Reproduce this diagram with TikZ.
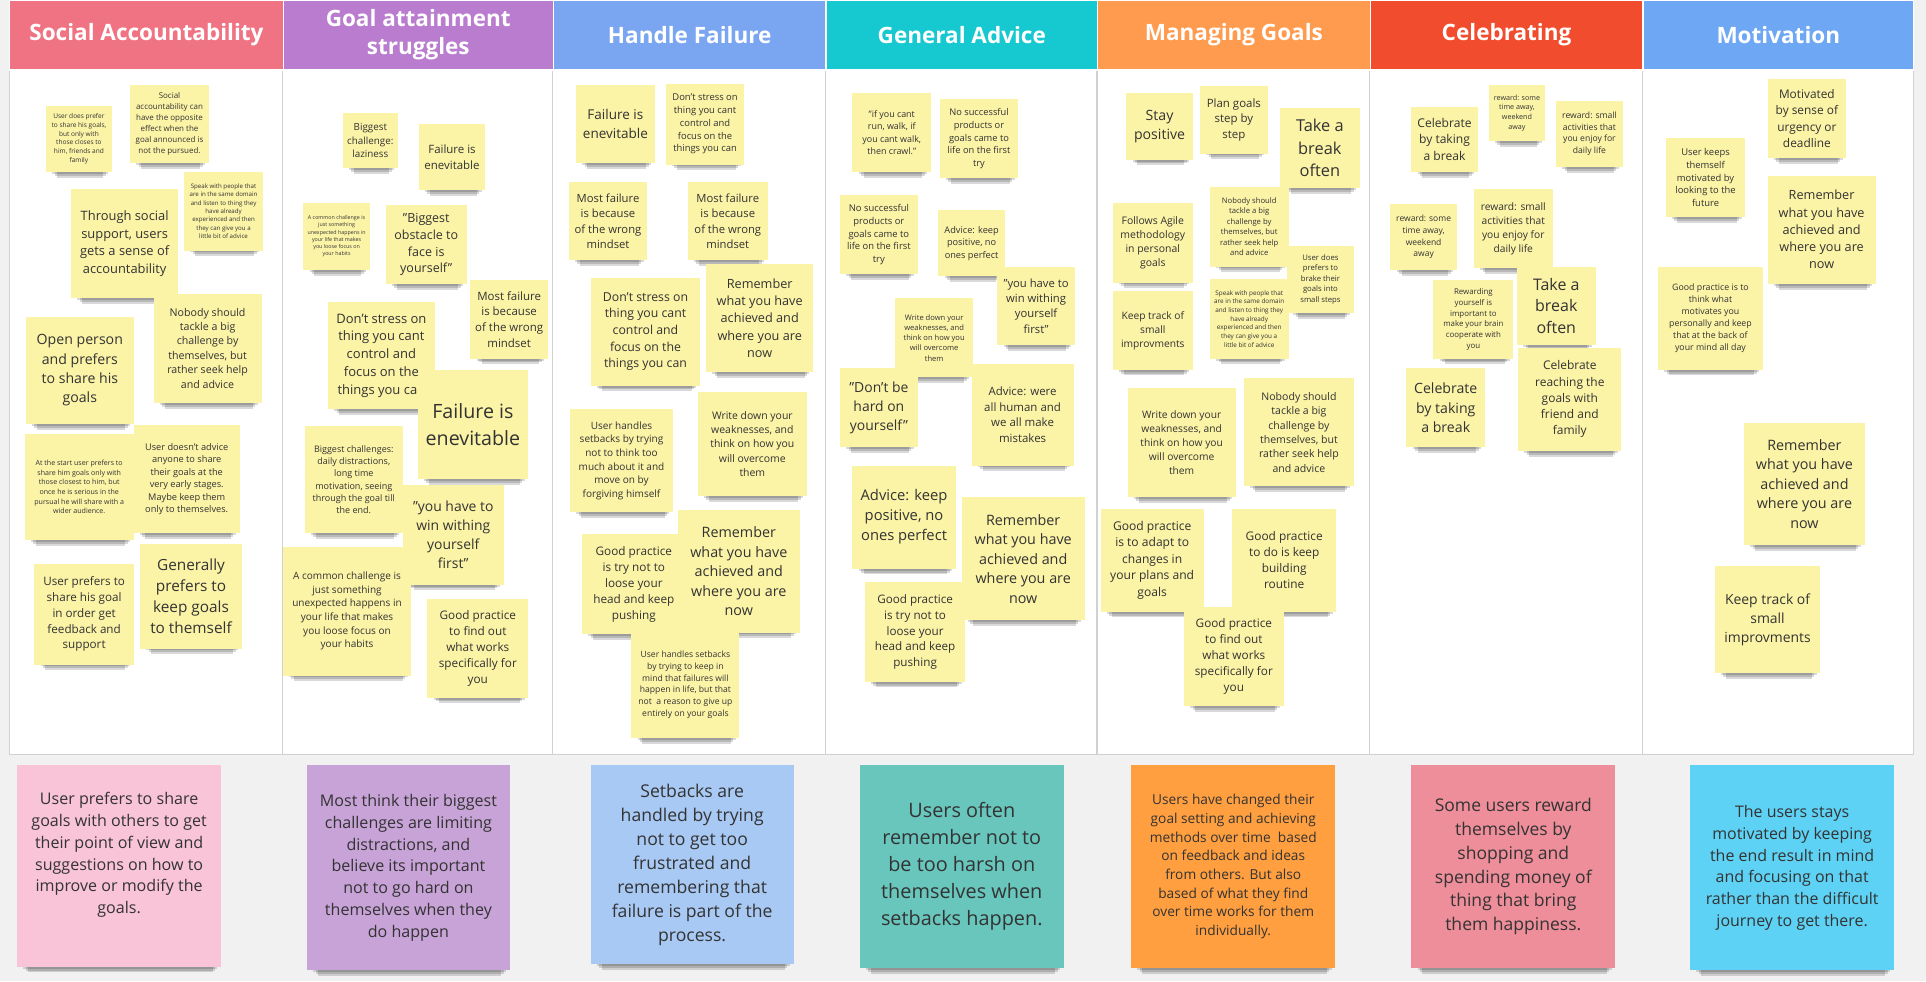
\documentclass[tikz,border=0pt]{standalone}
\usepackage{fontspec}
\setmainfont{Open Sans}
\usetikzlibrary{fit}
\definecolor{bgc}{HTML}{F1F1F1}
\definecolor{noteY}{HTML}{FBF3A6}
\definecolor{txt}{HTML}{333333}
\definecolor{hA}{HTML}{F07383}
\definecolor{hB}{HTML}{B97CCF}
\definecolor{hC}{HTML}{7AA6F1}
\definecolor{hD}{HTML}{16C8CF}
\definecolor{hE}{HTML}{FF9B4E}
\definecolor{hF}{HTML}{F14C2D}
\definecolor{hG}{HTML}{6EA7F3}
\definecolor{sA}{HTML}{F9C4D7}
\definecolor{sB}{HTML}{C8A3D7}
\definecolor{sC}{HTML}{A8C9F3}
\definecolor{sD}{HTML}{68C6BD}
\definecolor{sE}{HTML}{FF9F40}
\definecolor{sF}{HTML}{EE8E9A}
\definecolor{sG}{HTML}{5ED2F4}
\tikzset{
  note/.style={fill=#1, inner sep=0pt},
  notetext/.style={inner sep=0pt, align=center, text=txt, anchor=center},
  header/.style={fill=#1, draw=white, line width=0.6pt, inner sep=0pt},
  headtext/.style={inner sep=0pt, text=white, align=center, anchor=center,
    font=\bfseries\fontsize{11}{13.8}\selectfont},
  sepline/.style={draw=black!18, line width=0.6pt},
}
\newcommand\stkdy{0}
\newcommand\stk[8][noteY]{%
  \pgfmathsetmacro\stkl{#7*1.36}%
  \foreach \k in {0,1,2}{%
    \fill[black,opacity=0.15] ({#3+5+2*\k},{#6-3}) rectangle ({#5-3-2*\k},{#6+1.5+1.6*\k});
  }%
  \node[note=#1, fit={(#3,#4)(#5,#6)}] (#2) {};
  \node[notetext, yshift=\stkdy pt, font=\fontsize{#7}{\stkl}\selectfont] (#2t) at (#2.center) {#8};
}
\newcommand\hdr[5]{%
  \node[header=#2, fit={(#3,0)(#4,57)}] (#1) {};
  \node[headtext] (#1t) at (#1.center) {#5};
}
\begin{document}
\begin{tikzpicture}[x=0.6pt,y=-0.6pt]
\useasboundingbox (0,0) rectangle (1568,799);
\fill[bgc] (0,0) rectangle (1568,799);
% panel
\node[fill=white, draw=black!18, line width=0.6pt, inner sep=0pt, fit={(8,57)(1558,614)}] (panel) {};
\foreach \xx in {230,450,672,893,1115,1337} \draw[sepline] (\xx,57) -- (\xx,614);
% headers
\hdr{h1}{hA}{8}{230.5}{Social Accountability}
\hdr{h2}{hB}{230.5}{450.5}{Goal attainment\\struggles}
\hdr{h3}{hC}{450.5}{672.5}{Handle Failure}
\hdr{h4}{hD}{672.5}{893.5}{General Advice}
\hdr{h5}{hE}{893.5}{1115.5}{Managing Goals}
\hdr{h6}{hF}{1115.5}{1337.5}{Celebrating}
\hdr{h7}{hG}{1337.5}{1558}{Motivation}

% column 1
\stk{c1a}{37.5}{86}{91}{140}{3.2}{User does prefer\\to share his goals,\\but only with\\those closes to\\him, friends and\\family}
\stk{c1b}{106}{69}{170}{133}{3.9}{Social\\accountability can\\have the opposite\\effect when the\\goal announced is\\not the pursued.}
\stk{c1c}{150}{140}{214}{204}{3.0}{Speak with people that\\are in the same domain\\and listen to thing they\\have already\\experienced and then\\they can give you a\\little bit of advice}
\stk{c1d}{58}{154}{145}{243}{6.3}{Through social\\support, users\\gets a sense of\\accountability}
\stk{c1e}{125}{239}{213}{328}{5.2}{Nobody should\\tackle a big\\challenge by\\themselves, but\\rather seek help\\and advice}
\stk{c1f}{21}{258}{109}{345}{6.9}{Open person\\and prefers\\to share his\\goals}
\stk{c1g}{20}{353}{109}{440}{3.45}{At the start user prefers to\\share him goals only with\\those closest to him, but\\once he is serious in the\\pursual he will share with a\\wider audience.}
\stk{c1h}{109}{346}{195}{434}{4.5}{User doesn't advice\\anyone to share\\their goals at the\\very early stages.\\Maybe keep them\\only to themselves.}
\stk{c1i}{28}{459}{109}{541}{5.7}{User prefers to\\share his goal\\in order get\\feedback and\\support}
\stk{c1j}{114}{443}{197}{528}{7.5}{Generally\\prefers to\\keep goals\\to themself}

% column 2
\stk{c2a}{279}{92}{324}{137}{4.8}{Biggest\\challenge:\\laziness}
\stk{c2b}{341}{101}{395}{155}{5.6}{Failure is\\enevitable}
\stk{c2c}{247}{165}{301}{220}{2.6}{A common challenge is\\just something\\unexpected happens in\\your life that makes\\you loose focus on\\your habits}
\stk{c2d}{314}{167}{380}{231}{6.1}{"Biggest\\obstacle to\\face is\\yourself"}
\stk{c2e}{383}{228}{446}{292}{5.6}{Most failure\\is because\\of the wrong\\mindset}
\stk{c2f}{267}{246}{354}{333}{6.35}{Don't stress on\\thing you cant\\control and\\focus on the\\things you can}
\stk{c2g}{340}{301}{430}{390}{9.6}{Failure is\\enevitable}
\stk{c2h}{248}{347}{328}{434}{4.4}{Biggest challenges:\\daily distractions,\\long time\\motivation, seeing\\through the goal till\\the end.}
\stk{c2i}{328}{395}{410}{476}{6.8}{"you have to\\win withing\\yourself\\first"}
\stk{c2j}{230}{445}{335}{550}{4.9}{A common challenge is\\just something\\unexpected happens in\\your life that makes\\you loose focus on\\your habits}
\stk{c2k}{348}{488}{430}{568}{5.75}{Good practice\\to find out\\what works\\specifically for\\you}

% column 3
\stk{c3a}{469}{69}{533}{133}{6.6}{Failure is\\enevitable}
\stk{c3b}{542}{68}{606}{134}{4.6}{Don't stress on\\thing you cant\\control and\\focus on the\\things you can}
\stk{c3c}{463}{148}{527}{212}{5.5}{Most failure\\is because\\of the wrong\\mindset}
\stk{c3d}{560}{148}{625}{212}{5.5}{Most failure\\is because\\of the wrong\\mindset}
\stk{c3e}{481}{226}{570}{314}{6.0}{Don't stress on\\thing you cant\\control and\\focus on the\\things you can}
\stk{c3f}{575}{215}{662}{303}{6.2}{Remember\\what you have\\achieved and\\where you are\\now}
\stk{c3g}{568}{319}{657}{404}{5.1}{Write down your\\weaknesses, and\\think on how you\\will overcome\\them}
\stk{c3h}{464}{333}{548}{417}{4.9}{User handles\\setbacks by trying\\not to think too\\much about it and\\move on by\\forgiving himself}
\stk{c3i}{474}{435}{558}{516}{5.75}{Good practice\\is try not to\\loose your\\head and keep\\pushing}
\stk{c3j}{552}{415}{651}{515}{7.0}{Remember\\what you have\\achieved and\\where you are\\now}
\stk{c3k}{514}{514}{602}{601}{4.2}{User handles setbacks\\by trying to keep in\\mind that failures will\\happen in life, but that\\not\ \ a reason to give up\\entirely on your goals}

% column 4
\stk{c4a}{694}{76}{758}{140}{4.35}{"if you cant\\run, walk, if\\you cant walk,\\then crawl."}
\stk{c4b}{765}{81}{829}{145}{4.55}{No successful\\products or\\goals came to\\life on the first\\try}
\stk{c4c}{684}{159}{747}{223}{4.6}{No successful\\products or\\goals came to\\life on the first\\try}
\stk{c4d}{764}{171}{818}{225}{4.5}{Advice: keep\\positive, no\\ones perfect}
\stk{c4e}{812}{217}{875}{281}{5.5}{"you have to\\win withing\\yourself\\first"}
\stk{c4f}{729}{243}{792}{307}{3.7}{Write down your\\weaknesses, and\\think on how you\\will overcome\\them}
\stk{c4g}{684}{300}{747}{364}{6.8}{"Don't be\\hard on\\yourself"}
\stk{c4h}{791}{296}{874}{379}{5.6}{Advice: were\\all human and\\we all make\\mistakes}
\stk{c4i}{694}{379}{778}{463}{7.2}{Advice: keep\\positive, no\\ones perfect}
\stk{c4j}{783}{405}{883}{505}{7.0}{Remember\\what you have\\achieved and\\where you are\\now}
\stk{c4k}{704}{474}{786}{555}{5.7}{Good practice\\is try not to\\loose your\\head and keep\\pushing}

% column 5
\stk{c5a}{917}{76}{971}{130}{6.9}{Stay\\positive}
\stk{c5b}{977}{70}{1032}{125}{5.6}{Plan goals\\step by\\step}
\stk{c5c}{1042}{88}{1107}{153}{8.0}{Take a\\break\\often}
\stk{c5d}{906}{165}{971}{230}{5.1}{Follows Agile\\methodology\\in personal\\goals}
\stk{c5e}{985}{152}{1049}{217}{3.75}{Nobody should\\tackle a big\\challenge by\\themselves, but\\rather seek help\\and advice}
\stk{c5f}{1048}{200}{1102}{255}{3.77}{User does\\prefers to\\brake their\\goals into\\small steps}
\stk{c5g}{906}{237}{971}{301}{5.0}{Keep track of\\small\\improvments}
\stk{c5h}{985}{227}{1049}{292}{3.1}{Speak with people that\\are in the same domain\\and listen to thing they\\have already\\experienced and then\\they can give you a\\little bit of advice}
\stk{c5i}{918}{316}{1006}{405}{5.0}{Write down your\\weaknesses, and\\think on how you\\will overcome\\them}
\stk{c5j}{1013}{308}{1102}{396}{5.15}{Nobody should\\tackle a big\\challenge by\\themselves, but\\rather seek help\\and advice}
\stk{c5k}{896}{414}{980}{498}{5.9}{Good practice\\is to adapt to\\changes in\\your plans and\\goals}
\stk{c5l}{1003}{414}{1088}{498}{5.8}{Good practice\\to do is keep\\building\\routine}
\stk{c5m}{964}{494}{1045}{575}{5.75}{Good practice\\to find out\\what works\\specifically for\\you}

% column 6
\stk{c6a}{1149}{87}{1203}{140}{5.9}{Celebrate\\by taking\\a break}
\stk{c6b}{1212}{69}{1258}{115}{3.5}{reward: some\\time away,\\weekend\\away}
\stk{c6c}{1267}{82}{1321}{136}{4.2}{reward: small\\activities that\\you enjoy for\\daily life}
\stk{c6d}{1132}{166}{1186}{220}{4.15}{reward: some\\time away,\\weekend\\away}
\stk{c6e}{1200}{154}{1264}{218}{5.0}{reward: small\\activities that\\you enjoy for\\daily life}
\stk{c6f}{1167}{228}{1232}{292}{3.85}{Rewarding\\yourself is\\important to\\make your brain\\cooperate with\\you}
\stk{c6g}{1235}{217}{1299}{281}{7.8}{Take a\\break\\often}
\stk{c6h}{1145}{300}{1209}{364}{6.9}{Celebrate\\by taking\\a break}
\stk{c6i}{1236}{283}{1320}{367}{5.84}{Celebrate\\reaching the\\goals with\\friend and\\family}

% column 7
\stk{c7a}{1439}{64}{1503}{129}{5.8}{Motivated\\by sense of\\urgency or\\deadline}
\stk{c7b}{1356}{112}{1421}{177}{4.6}{User keeps\\themself\\motivated by\\looking to the\\future}
\stk{c7c}{1439}{143}{1527}{231}{6.2}{Remember\\what you have\\achieved and\\where you are\\now}
\stk{c7d}{1350}{217}{1435}{301}{4.3}{Good practice is to\\think what\\motivates you\\personally and keep\\that at the back of\\your mind all day}
\stk{c7e}{1420}{344}{1518}{444}{7.0}{Remember\\what you have\\achieved and\\where you are\\now}
\stk{c7f}{1396}{461}{1482}{548}{6.8}{Keep track of\\small\\improvments}

% summaries
\renewcommand\stkdy{5.4}
\stk[sA]{b1}{14}{623}{180}{787}{7.85}{User prefers to share\\goals with others to get\\their point of view and\\suggestions on how to\\improve or modify the\\goals.}
\renewcommand\stkdy{0}
\stk[sB]{b2}{250}{623}{415}{790}{7.85}{Most think their biggest\\challenges are limiting\\distractions, and\\believe its important\\not to go hard on\\themselves when they\\do happen}
\stk[sC]{b3}{481}{623}{646}{785}{8.6}{Setbacks are\\handled by trying\\not to get too\\frustrated and\\remembering that\\failure is part of the\\process.}
\stk[sD]{b4}{700}{623}{866}{788}{9.7}{Users often\\remember not to\\be too harsh on\\themselves when\\setbacks happen.}
\stk[sE]{b5}{921}{623}{1087}{788}{6.7}{Users have changed their\\goal setting and achieving\\methods over time\ \ based\\on feedback and ideas\\from others. But also\\based of what they find\\over time works for them\\individually.}
\stk[sF]{b6}{1149}{623}{1315}{788}{8.56}{Some users reward\\themselves by\\shopping and\\spending money of\\thing that bring\\them happiness.}
\stk[sG]{b7}{1376}{623}{1542}{790}{7.8}{The users stays\\motivated by keeping\\the end result in mind\\and focusing on that\\rather than the difficult\\journey to get there.}
\end{tikzpicture}
\end{document}
